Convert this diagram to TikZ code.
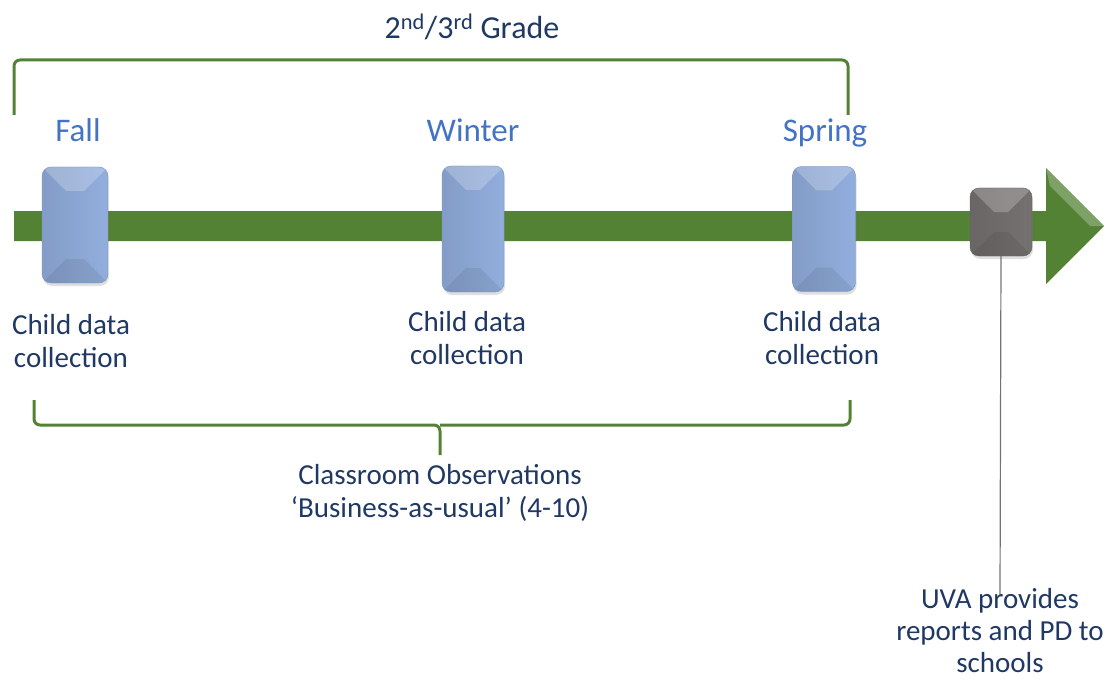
\documentclass[tikz,border=0pt]{standalone}
\usepackage{fontspec}
\setmainfont{Carlito}
\usepackage{xcolor}
\usepackage{tikz}
\usetikzlibrary{shadows}

\definecolor{barGreen}{HTML}{548235}
\definecolor{boxBlue}{HTML}{92AEDD}
\definecolor{boxGray}{HTML}{767171}
\definecolor{textNavy}{HTML}{203864}
\definecolor{seasonBlue}{HTML}{4472C4}

\tikzset{
  bevel/.style={path picture={
      \fill[white,opacity=0.22,sharp corners] (path picture bounding box.north west) -- (path picture bounding box.north east)
        -- ++(-24,24) -- ([shift={(24,24)}]path picture bounding box.north west) -- cycle;
      \fill[black,opacity=0.07,sharp corners] (path picture bounding box.south west) -- (path picture bounding box.south east)
        -- ++(-24,-24) -- ([shift={(24,-24)}]path picture bounding box.south west) -- cycle;
  }},
  termbox/.style={rounded corners=9pt, draw=#1!85!black, line width=0.4pt,
      left color=#1!90!black, right color=#1, bevel,
      drop shadow={shadow xshift=1pt, shadow yshift=-3pt, opacity=0.25}},
  season/.style={text=seasonBlue, font=\fontsize{33}{38}\selectfont},
  note/.style={text=textNavy, font=\fontsize{29}{33}\selectfont, align=center, inner sep=0pt},
  brace/.style={draw=barGreen, line width=3pt, rounded corners=6pt}
}

\begin{document}
\begin{tikzpicture}[x=1pt,y=-1pt]
    \useasboundingbox (0,0) rectangle (1109,682);

    % timeline arrow
    \fill[barGreen] (14,211) -- (1046,211) -- (1046,168) -- (1104,226) -- (1046,284) -- (1046,241) -- (14,241) -- cycle;
    \fill[white,opacity=0.25] (1046,168) -- (1104,226) -- (1090,226) -- (1050,186) -- cycle;

    % brackets
    \draw[brace] (14,115) -- (14,60) -- (848,60) -- (848,115);
    \draw[brace] (34,400) -- (34,425) -- (440,425) -- (440,455);
    \draw[brace] (850,400) -- (850,425) -- (440,425);

    \node [note, font=\fontsize{32}{36}\selectfont] (grade) at (472,27) {2\textsuperscript{nd}/3\textsuperscript{rd} Grade};

    % data collection points
    \node [termbox=boxBlue, minimum width=66pt, minimum height=116pt] (fallbox) at (75,225) {};
    \node [termbox=boxBlue, minimum width=62pt, minimum height=126pt] (winterbox) at (473,229) {};
    \node [termbox=boxBlue, minimum width=63pt, minimum height=125pt] (springbox) at (824,229) {};
    \node [termbox=boxGray, minimum width=62pt, minimum height=68pt] (uvabox) at (1001,222) {};

    \node [season] (fall) at (78,130) {Fall};
    \node [season] (winter) at (473,130) {Winter};
    \node [season] (spring) at (825,133) {Spring};

    \node [note] (fallnote) at (71,341) {Child data\\collection};
    \node [note] (winternote) at (467,338) {Child data\\collection};
    \node [note] (springnote) at (822,338) {Child data\\collection};

    \node [note] (observe) at (440,493) {Classroom Observations\\`Business-as-usual' (4-10)};

    \node [note, font=\fontsize{29}{32}\selectfont] (uvanote) at (1000,631) {UVA provides\\reports and PD to\\schools};
    \draw[boxGray, line width=1.2pt] (uvabox.south) -- ([yshift=-6pt]uvanote.north);
\end{tikzpicture}
\end{document}
